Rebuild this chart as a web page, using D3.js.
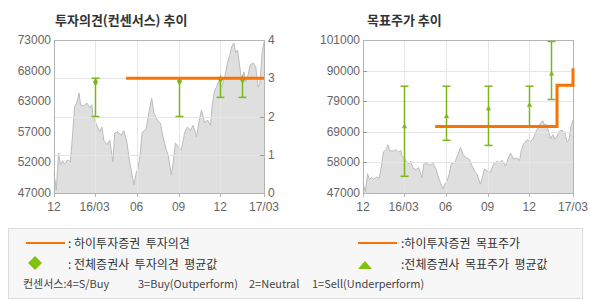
<!DOCTYPE html>
<html>
<head>
<meta charset="utf-8">
<script src="https://cdnjs.cloudflare.com/ajax/libs/d3/7.8.5/d3.min.js"></script>
<style>
    body { margin: 0; background: #fff; }
    .num { font-family: "Liberation Sans", Arial, sans-serif; font-size: 11px; fill: #666; }
    .kr { font-family: "Noto Sans CJK KR", sans-serif; fill: #333; }
</style>
</head>
<body>
<div id="chart"></div>
<script>
// 주가 (두 차트 공통)
var priceDates = ["2015-12-03","2015-12-08","2015-12-13","2015-12-17","2015-12-22","2015-12-26","2016-01-02","2016-01-08",
    "2016-01-13","2016-01-17","2016-01-22","2016-01-27","2016-01-30","2016-02-06","2016-02-13","2016-02-19","2016-02-24",
    "2016-02-26","2016-03-01","2016-03-06","2016-03-12","2016-03-17","2016-03-21","2016-03-28","2016-04-03","2016-04-10",
    "2016-04-14","2016-04-21","2016-04-28","2016-05-04","2016-05-11","2016-05-15","2016-05-20","2016-05-26","2016-05-31",
    "2016-06-04","2016-06-09","2016-06-13","2016-06-22","2016-06-26","2016-07-04","2016-07-09","2016-07-16","2016-07-23",
    "2016-07-29","2016-08-05","2016-08-09","2016-08-16","2016-08-20","2016-08-25","2016-08-31","2016-09-07","2016-09-14",
    "2016-09-20","2016-09-27","2016-10-03","2016-10-10","2016-10-17","2016-10-21","2016-10-28","2016-11-03","2016-11-10",
    "2016-11-14","2016-11-19","2016-11-23","2016-11-27","2016-12-04","2016-12-11","2016-12-17","2016-12-22","2016-12-26",
    "2016-12-31","2017-01-04","2017-01-08","2017-01-13","2017-01-17","2017-01-22","2017-01-26","2017-01-30","2017-02-05",
    "2017-02-11","2017-02-17","2017-02-22","2017-02-26","2017-03-03","2017-03-07"];
var prices = [50400,47500,53800,51800,52500,51900,52600,52300,
    57200,61600,62300,64000,62000,61800,62300,61500,62000,
    60300,59400,58500,57400,58200,56000,55200,56000,52300,
    57200,57400,56800,57600,55500,53100,50900,48400,50400,
    51200,53800,57200,58000,59900,63100,60600,59400,58900,
    56500,54300,53500,50100,52100,55500,54800,54300,57200,
    58200,57700,58500,56500,59700,61100,58900,59400,58500,
    62300,64500,65000,65900,65000,66700,69100,70400,71800,
    72500,70800,71300,68400,66200,67600,65900,66700,68800,
    69100,68400,65000,65700,70800,72700];

// x축
var tickDates = ["2015-12-03","2016-03-01","2016-06-01","2016-09-01","2016-12-01","2017-03-07"];
var tickLabels = ["12","16/03","06","09","12","17/03"];

// 투자의견 차트 축
var opinionPriceLabels = ["47000","52000","57000","63000","68000","73000"];
var opinionPriceDomain = [47000, 73000];
var opinionLabels = ["0","1","2","3","4"];
var opinionDomain = [0, 4];

// 목표주가 차트 축
var targetLabels = ["47000","58000","69000","79000","90000","101000"];
var targetDomain = [47000, 101000];

// 하이투자증권 투자의견
var hiOpinionDates = ["2016-05-09","2017-03-07"];
var hiOpinion = [3, 3];

// 전체증권사 투자의견 평균 / 최소 / 최대
var consDates = ["2016-03-01","2016-09-01","2016-12-01","2017-01-18"];
var consAvg = [2.9, 2.92, 2.97, 2.97];
var consMin = [2, 2, 2.5, 2.5];
var consMax = [3, 3, 3, 3];

// 하이투자증권 목표주가
var hiTargetDates = ["2016-05-09","2017-01-31","2017-03-07"];
var hiTarget = [70500, 85000, 91000];

// 전체증권사 목표주가 평균 / 최소 / 최대
var tgtDates = ["2016-03-01","2016-06-01","2016-09-01","2016-12-01","2017-01-18"];
var tgtAvg = [70400, 74000, 76700, 78000, 89000];
var tgtMin = [52900, 65600, 63800, 70400, 80000];
var tgtMax = [84700, 84700, 84700, 84700, 100500];

var WIDTH = 590, HEIGHT = 300,
    TOP = 40, BOTTOM = 193,
    ORANGE = "#fb7204", GREEN = "#7cb61c", LEGEND_GREEN = "#82c20e",
    GRID = "#e6e6e6", FRAME = "#b4b4b4";

var parse = d3.timeParse("%Y-%m-%d");

var svg = d3.select("#chart").append("svg")
    .attr("width", WIDTH)
    .attr("height", HEIGHT);

function xScale(x0, x1) {
    return d3.scaleTime()
        .domain([parse(tickDates[0]), parse(tickDates[tickDates.length - 1])])
        .range([x0, x1]);
}

// 눈금 위치: 도메인을 라벨 수만큼 균등 분할
function evenTicks(domain, n) {
    return d3.range(n).map(function (i) {
        return domain[0] + i * (domain[1] - domain[0]) / (n - 1);
    });
}

function drawPrice(g, x, y) {
    var idx = d3.range(prices.length);
    g.append("path")
        .datum(idx)
        .attr("fill", "#dfdfdf")
        .attr("d", d3.area()
            .x(function (i) { return x(parse(priceDates[i])); })
            .y0(BOTTOM)
            .y1(function (i) { return y(prices[i]); }));
    g.append("path")
        .datum(idx)
        .attr("fill", "none")
        .attr("stroke", "#bcbcbc")
        .attr("stroke-width", 1)
        .attr("d", d3.line()
            .x(function (i) { return x(parse(priceDates[i])); })
            .y(function (i) { return y(prices[i]); }));
}

function drawGridX(g, x) {
    g.selectAll("line.vg")
        .data(tickDates.slice(1, -1))
        .enter().append("line")
        .attr("class", "vg")
        .attr("x1", function (d) { return Math.round(x(parse(d))) + 0.5; })
        .attr("x2", function (d) { return Math.round(x(parse(d))) + 0.5; })
        .attr("y1", TOP).attr("y2", BOTTOM)
        .attr("stroke", GRID);

    // 아래 눈금 + 라벨
    g.selectAll("line.bt")
        .data(tickDates)
        .enter().append("line")
        .attr("class", "bt")
        .attr("x1", function (d) { return Math.round(x(parse(d))) + 0.5; })
        .attr("x2", function (d) { return Math.round(x(parse(d))) + 0.5; })
        .attr("y1", BOTTOM).attr("y2", BOTTOM + 4)
        .attr("stroke", FRAME);
    g.selectAll("text.xl")
        .data(tickDates)
        .enter().append("text")
        .attr("class", "num xl")
        .attr("x", function (d) { return x(parse(d)); })
        .attr("y", 211)
        .attr("text-anchor", "middle")
        .style("font-size", "12px")
        .text(function (d, i) { return tickLabels[i]; });
}

function drawGridY(g, x0, x1, vals, y) {
    g.selectAll("line.hg")
        .data(vals)
        .enter().append("line")
        .attr("class", "hg")
        .attr("x1", x0).attr("x2", x1)
        .attr("y1", function (d) { return Math.round(y(d)) + 0.5; })
        .attr("y2", function (d) { return Math.round(y(d)) + 0.5; })
        .attr("stroke", GRID);
}

function drawFrame(g, x0, x1) {
    g.append("rect")
        .attr("x", Math.round(x0) + 0.5).attr("y", TOP + 0.5)
        .attr("width", Math.round(x1 - x0)).attr("height", BOTTOM - TOP)
        .attr("fill", "none")
        .attr("stroke", FRAME);
}

function drawErrorBars(g, x, y, dates, avg, lo, hi, symbol, size) {
    var bars = g.selectAll("g.eb")
        .data(dates)
        .enter().append("g")
        .attr("class", "eb")
        .attr("transform", function (d) { return "translate(" + (Math.round(x(parse(d))) + 0.5) + ",0)"; });
    bars.append("line")
        .attr("y1", function (d, i) { return y(lo[i]); })
        .attr("y2", function (d, i) { return y(hi[i]); })
        .attr("stroke", GREEN).attr("stroke-width", 1.5);
    bars.append("line")
        .attr("x1", -4).attr("x2", 4)
        .attr("y1", function (d, i) { return y(lo[i]); })
        .attr("y2", function (d, i) { return y(lo[i]); })
        .attr("stroke", GREEN).attr("stroke-width", 1.5);
    bars.append("line")
        .attr("x1", -4).attr("x2", 4)
        .attr("y1", function (d, i) { return y(hi[i]); })
        .attr("y2", function (d, i) { return y(hi[i]); })
        .attr("stroke", GREEN).attr("stroke-width", 1.5);
    bars.append("path")
        .attr("transform", function (d, i) { return "translate(0," + y(avg[i]) + ")"; })
        .attr("d", d3.symbol().type(symbol).size(size))
        .attr("fill", GREEN);
}

function drawStep(g, x, y, dates, vals, curve) {
    var idx = d3.range(vals.length);
    g.append("path")
        .datum(idx)
        .attr("fill", "none")
        .attr("stroke", ORANGE)
        .attr("stroke-width", 3)
        .attr("d", d3.line()
            .curve(curve)
            .x(function (i) { return x(parse(dates[i])); })
            .y(function (i) { return y(vals[i]); }));
}

// ---------- 투자의견(컨센서스) 추이 ----------
(function () {
    var X0 = 54, X1 = 264;
    var g = svg.append("g");
    var x = xScale(X0, X1);
    var yP = d3.scaleLinear().domain(opinionPriceDomain).range([BOTTOM, TOP]);
    var yO = d3.scaleLinear().domain(opinionDomain).range([BOTTOM, TOP]);

    g.append("text").attr("class", "kr")
        .attr("x", 55).attr("y", 25)
        .style("font-size", "13px").style("font-weight", "bold")
        .text("투자의견(컨센서스) 추이");

    drawPrice(g, x, yP);
    drawGridY(g, X0, X1, [1, 2, 3], yO);
    drawGridX(g, x);
    drawFrame(g, X0, X1);

    // 왼쪽 라벨 (주가)
    g.selectAll("text.yl")
        .data(evenTicks(opinionPriceDomain, opinionPriceLabels.length))
        .enter().append("text")
        .attr("class", "num yl")
        .attr("x", 51)
        .attr("y", function (d) { return yP(d) + 4; })
        .attr("text-anchor", "end")
        .style("font-size", "12px")
        .text(function (d, i) { return opinionPriceLabels[i]; });

    // 오른쪽 축 (투자의견)
    var ov = d3.range(opinionDomain[0], opinionDomain[1] + 1);
    g.selectAll("line.rt")
        .data(ov.slice(1, -1))
        .enter().append("line")
        .attr("class", "rt")
        .attr("x1", X1 - 4).attr("x2", X1)
        .attr("y1", function (d) { return Math.round(yO(d)) + 0.5; })
        .attr("y2", function (d) { return Math.round(yO(d)) + 0.5; })
        .attr("stroke", "#999");
    g.selectAll("text.rl")
        .data(ov)
        .enter().append("text")
        .attr("class", "num rl")
        .attr("x", 268)
        .attr("y", function (d) { return yO(d) + 4; })
        .style("font-size", "12px")
        .text(function (d, i) { return opinionLabels[i]; });

    drawErrorBars(g, x, yO, consDates, consAvg, consMin, consMax, d3.symbolDiamond, 22);
    drawStep(g, x, yO, hiOpinionDates, hiOpinion, d3.curveStepAfter);
})();

// ---------- 목표주가 추이 ----------
(function () {
    var X0 = 363, X1 = 573;
    var g = svg.append("g");
    var x = xScale(X0, X1);
    var y = d3.scaleLinear().domain(targetDomain).range([BOTTOM, TOP]);
    var tv = evenTicks(targetDomain, targetLabels.length);

    g.append("text").attr("class", "kr")
        .attr("x", 367).attr("y", 25)
        .style("font-size", "13px").style("font-weight", "bold")
        .text("목표주가 추이");

    drawPrice(g, x, y);
    drawGridY(g, X0, X1, tv.slice(1, -1), y);
    drawGridX(g, x);
    drawFrame(g, X0, X1);

    g.selectAll("line.lt")
        .data(tv.slice(1, -1))
        .enter().append("line")
        .attr("class", "lt")
        .attr("x1", X0).attr("x2", X0 + 4)
        .attr("y1", function (d) { return Math.round(y(d)) + 0.5; })
        .attr("y2", function (d) { return Math.round(y(d)) + 0.5; })
        .attr("stroke", "#999");
    g.selectAll("text.yl")
        .data(tv)
        .enter().append("text")
        .attr("class", "num yl")
        .attr("x", 360)
        .attr("y", function (d) { return y(d) + 4; })
        .attr("text-anchor", "end")
        .style("font-size", "12px")
        .text(function (d, i) { return targetLabels[i]; });

    drawErrorBars(g, x, y, tgtDates, tgtAvg, tgtMin, tgtMax, d3.symbolTriangle, 12);
    drawStep(g, x, y, hiTargetDates, hiTarget, d3.curveStepAfter);
})();

// ---------- 범례 ----------
var legend = svg.append("g");
legend.append("rect")
    .attr("x", 8.5).attr("y", 228.5)
    .attr("width", 574).attr("height", 70)
    .attr("fill", "#f7f7f7")
    .attr("stroke", "#dcdcdc");

legend.append("line").attr("x1", 26).attr("x2", 65).attr("y1", 243).attr("y2", 243)
    .attr("stroke", ORANGE).attr("stroke-width", 2);
legend.append("line").attr("x1", 358).attr("x2", 397).attr("y1", 243).attr("y2", 243)
    .attr("stroke", ORANGE).attr("stroke-width", 2);
legend.append("path")
    .attr("transform", "translate(35,263)")
    .attr("d", "M0,-7L7,0L0,7L-7,0Z")
    .attr("fill", LEGEND_GREEN);
legend.append("path")
    .attr("transform", "translate(365,265)")
    .attr("d", "M0,-4L7,4L-7,4Z")
    .attr("fill", LEGEND_GREEN);

var legendTexts = [
    [68, 248, ": 하이투자증권  투자의견"],
    [401, 248, ":하이투자증권  목표주가"],
    [68, 269, ": 전체증권사  투자의견  평균값"],
    [401, 269, ":전체증권사  목표주가  평균값"]
];
legend.selectAll("text.lg")
    .data(legendTexts)
    .enter().append("text")
    .attr("class", "kr lg")
    .attr("x", function (d) { return d[0]; })
    .attr("y", function (d) { return d[1]; })
    .style("font-size", "12px")
    .style("white-space", "pre")
    .text(function (d) { return d[2]; });

var consText = [
    [23, "컨센서스:4=S/Buy"],
    [138, "3=Buy(Outperform)"],
    [249, "2=Neutral"],
    [312, "1=Sell(Underperform)"]
];
legend.selectAll("text.cs")
    .data(consText)
    .enter().append("text")
    .attr("class", "kr cs")
    .attr("x", function (d) { return d[0]; })
    .attr("y", 288)
    .style("font-size", "11px")
    .style("fill", "#444")
    .text(function (d) { return d[1]; });
</script>
</body>
</html>
